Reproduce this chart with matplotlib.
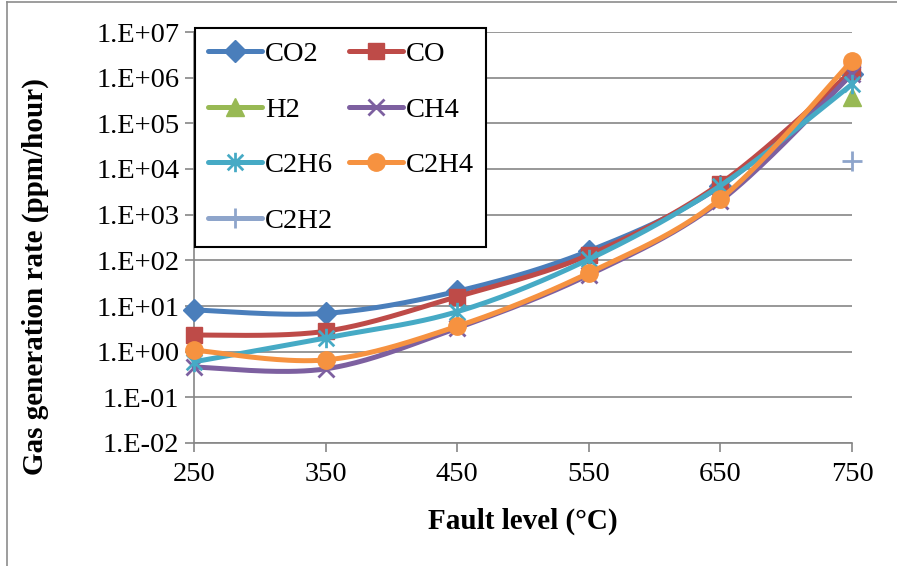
import numpy as np
import matplotlib
matplotlib.use("Agg")
import matplotlib.pyplot as plt
from matplotlib.lines import Line2D
from matplotlib.path import Path
from matplotlib.ticker import FuncFormatter, FixedLocator

plt.rcParams["font.family"] = ["Liberation Serif", "DejaVu Serif"]

# Fault temperature levels (°C)
temps = [250, 350, 450, 550, 650, 750]

# Gas generation rates (ppm/hour)
co2 = [8.2, 6.9, 21, 160, 4200, 1.2e6]
co = [2.3, 2.8, 16, 131, 4800, 1.4e6]
h2 = [np.nan, np.nan, np.nan, np.nan, np.nan, 3.7e5]
ch4 = [0.46, 0.42, 3.3, 48, 2000, 1.2e6]
c2h6 = [0.6, 2.0, 7.5, 105, 4300, 7.2e5]
c2h4 = [1.08, 0.66, 3.6, 53, 2200, 2.35e6]
c2h2 = [np.nan, np.nan, np.nan, np.nan, np.nan, 1.5e4]

names = ["CO2", "CO", "H2", "CH4", "C2H6", "C2H4", "C2H2"]
series = [co2, co, h2, ch4, c2h6, c2h4, c2h2]
colors = ["#4A7EBB", "#BE4B48", "#98B954", "#7D60A0", "#46AAC5", "#F69240", "#8EA5CB"]

# asterisk marker: an X with a vertical bar through it
star_path = Path(
    [(-1, -1), (1, 1), (-1, 1), (1, -1), (0, -1.25), (0, 1.25)],
    [Path.MOVETO, Path.LINETO, Path.MOVETO, Path.LINETO, Path.MOVETO, Path.LINETO],
)
markers = ["D", "s", "^", "x", star_path, "o", "+"]
msizes = [11.5, 11, 13.5, 11, 14, 12.5, 14]
mew = [1, 1, 1, 2, 2, 1, 2]


def smooth(xs, ys, n=40):
    """Bezier smoothing through points in (x, log10 y), like a spreadsheet smoothed line."""
    x = np.asarray(xs, float)
    ly = np.log10(np.asarray(ys, float))
    P = np.column_stack([x, ly])
    out = []
    for i in range(len(P) - 1):
        p0 = P[i - 1] if i > 0 else P[i]
        p1, p2 = P[i], P[i + 1]
        p3 = P[i + 2] if i + 2 < len(P) else P[i + 1]
        b1 = p1 + (p2 - p0) / 6.0
        b2 = p2 - (p3 - p1) / 6.0
        t = np.linspace(0, 1, n)[:, None]
        seg = ((1 - t) ** 3) * p1 + 3 * ((1 - t) ** 2) * t * b1 + 3 * (1 - t) * t ** 2 * b2 + t ** 3 * p2
        out.append(seg if i == 0 else seg[1:])
    seg = np.vstack(out)
    return seg[:, 0], 10 ** seg[:, 1]


W, H = 897, 566
fig = plt.figure(figsize=(W / 100, H / 100), dpi=100)
ax = fig.add_axes([194 / W, 1 - 443 / H, (852 - 194) / W, (443 - 32) / H])

handles = []
for i, (name, vals, col) in enumerate(zip(names, series, colors)):
    z = 3 + i * 0.1
    v = np.asarray(vals, float)
    ok = ~np.isnan(v)
    xs = np.asarray(temps, float)[ok]
    ys = v[ok]
    if ok.sum() > 1:
        sx, sy = smooth(xs, ys)
        ax.plot(sx, sy, color=col, lw=3.6, solid_capstyle="round", zorder=z, clip_on=False)
    ax.plot(xs, ys, ls="none", marker=markers[i], ms=msizes[i], mfc=col, mec=col,
            mew=mew[i], zorder=z + 0.05, clip_on=False)
    handles.append(Line2D([], [], color=col, lw=3.6, solid_capstyle="round",
                          marker=markers[i], ms=msizes[i], mfc=col, mec=col, mew=mew[i]))

ax.set_yscale("log")
ax.set_xlim(250, 750)
ax.set_ylim(1e-2, 1e7)
ax.xaxis.set_major_locator(FixedLocator(temps))
ax.yaxis.set_major_locator(FixedLocator([10.0 ** e for e in range(-2, 8)]))
ax.yaxis.set_minor_locator(FixedLocator([]))
ax.yaxis.set_major_formatter(FuncFormatter(lambda v, p: "1.E%+03d" % int(round(np.log10(v)))))

grey = "#868686"
ax.grid(axis="y", color=grey, lw=1.2, zorder=0)
ax.set_axisbelow(True)
for s in ["top", "right"]:
    ax.spines[s].set_visible(False)
for s in ["left", "bottom"]:
    ax.spines[s].set_color(grey)
    ax.spines[s].set_linewidth(1.2)
ax.tick_params(axis="both", colors=grey, length=6.5, width=1.2, labelcolor="black",
               labelsize=20.5, direction="out")
ax.tick_params(axis="y", pad=4)
ax.tick_params(axis="x", pad=7)

ax.set_xlabel("Fault level (°C)", fontsize=21, fontweight="bold", labelpad=15)
ax.set_ylabel("Gas generation rate (ppm/hour)", fontsize=21, fontweight="bold")
ax.yaxis.set_label_coords((49 - 194) / (852 - 194), (443 - 277) / (443 - 32))

# legend fills row by row: reorder so column-wise filling gives that layout
order = [0, 2, 4, 6, 1, 3, 5]
leg = ax.legend([handles[k] for k in order], [names[k] for k in order], ncol=2,
                loc="upper left",
                bbox_to_anchor=(195 / W, 1 - 28 / H), bbox_transform=fig.transFigure,
                fontsize=20.5, frameon=True, fancybox=False, framealpha=1,
                handlelength=1.9, handletextpad=0.1, columnspacing=0.55,
                labelspacing=1.05, borderpad=0.45, borderaxespad=0)
leg.get_frame().set_edgecolor("black")
leg.get_frame().set_linewidth(1.5)
leg.set_zorder(10)

# outer chart border (top and left edges)
fig.add_artist(Line2D([7 / W, 7 / W], [0, 1 - 2 / H], color="#8c8c8c", lw=1.2))
fig.add_artist(Line2D([7 / W, 1], [1 - 2 / H, 1 - 2 / H], color="#8c8c8c", lw=1.2))

fig.savefig("out.png", dpi=100)
